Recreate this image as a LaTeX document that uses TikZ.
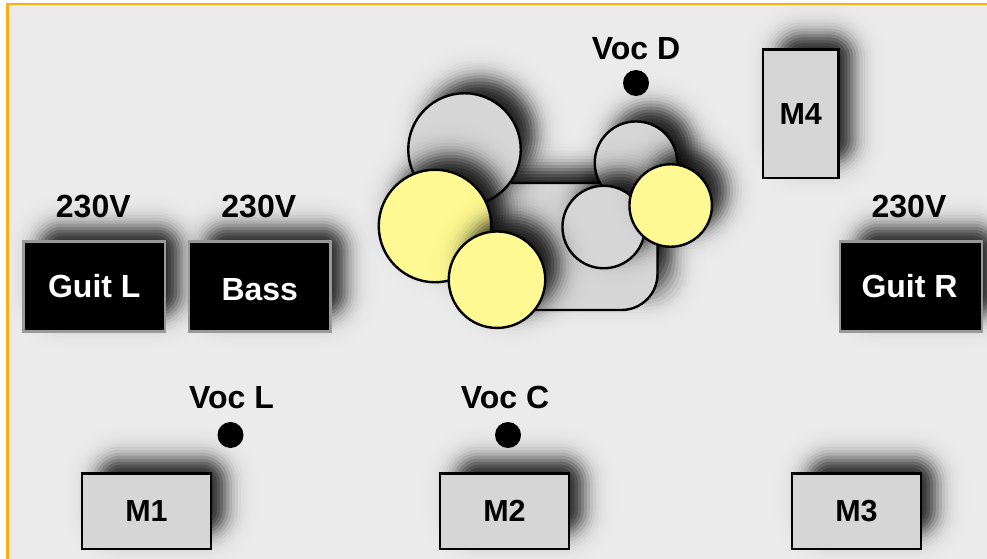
\documentclass[tikz,border=0pt]{standalone}
\usepackage{fontspec}
\setmainfont{Liberation Sans}
\usetikzlibrary{positioning}

\definecolor{stagegray}{HTML}{EBEBEB}
\definecolor{partgray}{HTML}{D6D6D6}
\definecolor{lampyellow}{HTML}{FFF994}
\definecolor{frameorange}{HTML}{FFAD0F}

% soft shadows, built up from thin transparent layers
\newcommand{\boxglow}[5]{%
  \foreach \t in {33,30,...,-33} {
    \pgfmathsetmacro\layer{1-(1-glowlevel(\t))/(1-glowlevel(\t+3))}
    \pgfmathsetmacro\corner{max(#5,24+\t)+0.1}
    \fill[black, opacity=\layer, rounded corners=\corner pt]
      (#1+15-#3/2-\t, #2-15-#4/2-\t) rectangle (#1+15+#3/2+\t, #2-15+#4/2+\t);
  }%
}
\newcommand{\discglow}[3]{%
  \foreach \t in {33,30,...,-33} {
    \pgfmathsetmacro\layer{1-(1-glowlevel(\t))/(1-glowlevel(\t+3))}
    \fill[black, opacity=\layer] (#1+15, #2-15) circle ({#3/2+\t});
  }%
}

\begin{document}
\begin{tikzpicture}[
  x=1pt, y=-1pt,
  declare function={glowlevel(\t)=0.88/(1+exp(1.7*\t/11));},
  font=\fontsize{32}{36}\selectfont\bfseries,
  node distance=24pt,
  ampbox/.style={
    rectangle, draw=black!40, line width=2.4pt, fill=black, text=white,
    minimum width=141.5pt, minimum height=90pt, inner sep=0pt, outer sep=0pt
  },
  monbox/.style={
    rectangle, draw=black, line width=2.4pt, fill=partgray,
    font=\fontsize{30.5}{36}\selectfont\bfseries,
    minimum width=128.5pt, minimum height=75.5pt, inner sep=0pt, outer sep=0pt
  },
  drum/.style={
    circle, draw=black, line width=2.4pt, fill=partgray,
    inner sep=0pt, outer sep=0pt
  },
  cymbal/.style={
    circle, draw=black, line width=2.4pt, fill=lampyellow,
    inner sep=0pt, outer sep=0pt
  },
  micdot/.style={circle, fill=black, minimum size=26pt, inner sep=0pt, outer sep=0pt},
  tag/.style={inner sep=0pt, outer sep=0pt}
]

\useasboundingbox (0,0) rectangle (987,559);

% Stage
\fill[white] (0,0) rectangle (987,559);
\draw[frameorange, line width=2.6pt, fill=stagegray] (7.5,4) rectangle (1000,575);

% Drum riser and kit
\boxglow{563.75}{246.5}{187.5}{127}{36}
\node[drum, rectangle, rounded corners=36pt, minimum width=187.5pt, minimum height=127pt] (riser) at (563.75,246.5) {};
\discglow{464.5}{149.5}{112.5}
\node[drum, minimum size=112.5pt] (floortom) at (464.5,149.5) {};
\discglow{636}{162.7}{82.5}
\node[drum, minimum size=82.5pt] (tomhigh) at (636,162.7) {};
\discglow{603.7}{227}{82.5}
\node[drum, minimum size=82.5pt] (tomlow) at (603.7,227) {};
\discglow{435}{226}{112.5}
\node[cymbal, minimum size=112.5pt] (crash) at (435,226) {};
\discglow{497}{279.7}{96.5}
\node[cymbal, minimum size=96.5pt] (ride) at (497,279.7) {};
\discglow{670.7}{205.5}{82.5}
\node[cymbal, minimum size=82.5pt] (hihat) at (670.7,205.5) {};

% Amps
\boxglow{94.3}{286.5}{141.5}{90}{0}
\node[ampbox] (guitl) at (94.3,286.5) {};
\boxglow{259.8}{286.5}{141.5}{90}{0}
\node[ampbox, right=of guitl] (bass) {};
\boxglow{911}{286.5}{141.5}{90}{0}
\node[ampbox] (guitr) at (911,286.5) {};
\node[tag, white] (guitltext) at (guitl) {Guit L};
\node[tag, white, yshift=-3pt] (basstext) at (bass) {Bass};
\node[tag, white, xshift=-1.5pt] (guitrtext) at (guitr) {Guit R};
\node[tag, above=24pt of guitl, xshift=-1pt] (powerl) {230V};
\node[tag, above=24pt of bass, xshift=-1pt] (powerb) {230V};
\node[tag, above=24pt of guitr, xshift=-2pt] (powerr) {230V};

% Monitors
\boxglow{146.5}{511.3}{128.5}{75.5}{0}
\node[monbox] (mone) at (146.5,511.3) {M1};
\boxglow{504.5}{511.3}{128.5}{75.5}{0}
\node[monbox] (mtwo) at (504.5,511.3) {M2};
\boxglow{856.5}{511.3}{128.5}{75.5}{0}
\node[monbox] (mthree) at (856.5,511.3) {M3};
\boxglow{800.7}{113.7}{75.5}{128.5}{0}
\node[monbox, minimum width=75.5pt, minimum height=128.5pt] (mfour) at (800.7,113.7) {M4};

% Vocals
\node[micdot] (micl) at (230.5,435) {};
\node[micdot] (micc) at (508,435) {};
\node[micdot] (micd) at (636,83) {};
\node[tag, above=13pt of micl, xshift=1pt] (vocl) {Voc L};
\node[tag, above=13pt of micc, xshift=-3pt] (vocc) {Voc C};
\node[tag, above=10pt of micd] (vocd) {Voc D};

\end{tikzpicture}
\end{document}
